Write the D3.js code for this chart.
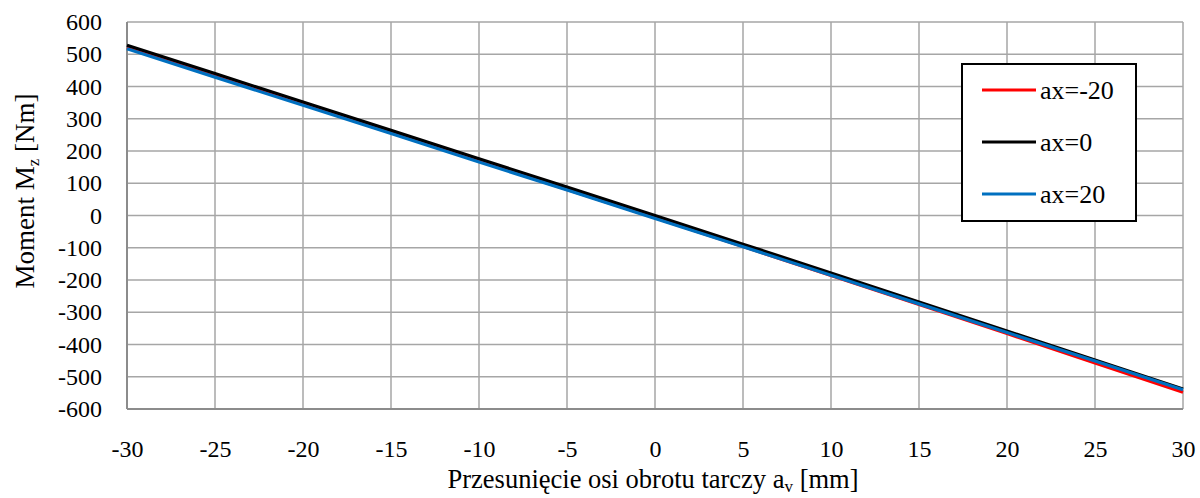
<!DOCTYPE html>
<html>
<head>
<meta charset="utf-8">
<script src="https://cdn.jsdelivr.net/npm/d3@7"></script>
<style>
  html, body { margin: 0; padding: 0; background: #fff; }
  svg text { font-family: "Liberation Serif", "Times New Roman", serif; fill: #000; }
</style>
</head>
<body>
<svg id="chart" width="1200" height="498"></svg>
<script>
// Shaft offset a_v [mm]
const offsets = [-30, -25, -20, -15, -10, -5, 0, 5, 10, 15, 20, 25, 30];
// Moment M_z [Nm] for each ax setting
const momentAxMinus20 = [520, 432, 345, 257, 169, 81, -7, -96, -186, -276, -366, -457, -548];
const momentAx0       = [528, 440, 352, 264, 176, 88, 0, -89, -178, -268, -358, -448, -538];
const momentAx20      = [517, 429, 342, 254, 166, 79, -9, -97, -185, -274, -363, -451, -540];

const seriesNames = ["ax=-20", "ax=0", "ax=20"];
const seriesColors = ["#ff0000", "#000000", "#0070c0"];
const xTicks = [-30, -25, -20, -15, -10, -5, 0, 5, 10, 15, 20, 25, 30];
const yTicks = [-600, -500, -400, -300, -200, -100, 0, 100, 200, 300, 400, 500, 600];

const svg = d3.select("#chart");
const margin = { left: 127, right: 17, top: 22, bottom: 89 };
const W = 1200, H = 498;

const x = d3.scaleLinear().domain([-30, 30]).range([margin.left, W - margin.right]);
const y = d3.scaleLinear().domain([-600, 600]).range([H - margin.bottom, margin.top]);

const grid = svg.append("g");
grid.selectAll("line.h").data(yTicks).join("line")
  .attr("x1", x(-30)).attr("x2", x(30))
  .attr("y1", d => y(d)).attr("y2", d => y(d))
  .attr("stroke", "#a6a6a6").attr("stroke-width", 1.5);
grid.selectAll("line.v").data(xTicks).join("line")
  .attr("y1", y(-600)).attr("y2", y(600))
  .attr("x1", d => x(d)).attr("x2", d => x(d))
  .attr("stroke", "#a6a6a6").attr("stroke-width", 1.5);

// axis lines
svg.append("line").attr("x1", x(-30)).attr("x2", x(30)).attr("y1", y(-600)).attr("y2", y(-600))
  .attr("stroke", "#8c8c8c").attr("stroke-width", 2);
svg.append("line").attr("x1", x(-30)).attr("x2", x(-30)).attr("y1", y(-600)).attr("y2", y(600))
  .attr("stroke", "#8c8c8c").attr("stroke-width", 2);

// tick labels via d3 axes (domain and tick marks hidden)
const fmt = d => String(d);
const yAxis = svg.append("g").attr("transform", `translate(${x(-30)},0)`)
  .call(d3.axisLeft(y).tickValues(yTicks).tickSize(0).tickPadding(25).tickFormat(fmt));
yAxis.attr("font-family", null).attr("font-size", null);
yAxis.select(".domain").remove();
yAxis.selectAll("text").style("font-size", "24px").attr("fill", "#000");

const xAxis = svg.append("g").attr("transform", `translate(0,${y(-600)})`)
  .call(d3.axisBottom(x).tickValues(xTicks).tickSize(0).tickPadding(31).tickFormat(fmt));
xAxis.attr("font-family", null).attr("font-size", null);
xAxis.select(".domain").remove();
xAxis.selectAll("text").style("font-size", "24px").attr("fill", "#000");

// series
const series = [momentAxMinus20, momentAx0, momentAx20];
const line = d3.line().x((d, i) => x(offsets[i])).y(d => y(d));
series.forEach((vals, k) => {
  svg.append("path").datum(vals)
    .attr("d", line)
    .attr("fill", "none")
    .attr("stroke", seriesColors[k])
    .attr("stroke-width", 3.2);
});

// axis titles
const xt = svg.append("text").attr("x", 653).attr("y", 488)
  .attr("text-anchor", "middle").style("font-size", "26.5px");
xt.append("tspan").text("Przesunięcie osi obrotu tarczy a");
xt.append("tspan").style("font-size", "17px").attr("dy", 4).text("v");
xt.append("tspan").attr("dy", -4).text(" [mm]");

const yt = svg.append("text").attr("transform", `translate(34,191) rotate(-90)`)
  .attr("text-anchor", "middle").style("font-size", "27px");
yt.append("tspan").text("Moment M");
yt.append("tspan").style("font-size", "17px").attr("dy", 5).text("z");
yt.append("tspan").attr("dy", -5).text(" [Nm]");

// legend
const lg = svg.append("g");
lg.append("rect").attr("x", 962).attr("y", 64).attr("width", 174).attr("height", 157)
  .attr("fill", "#fff").attr("stroke", "#000").attr("stroke-width", 2);
seriesNames.forEach((name, k) => {
  const ly = 90 + k * 52;
  lg.append("line").attr("x1", 982).attr("x2", 1036).attr("y1", ly).attr("y2", ly)
    .attr("stroke", seriesColors[k]).attr("stroke-width", 3.2);
  lg.append("text").attr("x", 1040).attr("y", ly + 9).style("font-size", "26px").text(name);
});
</script>
</body>
</html>
